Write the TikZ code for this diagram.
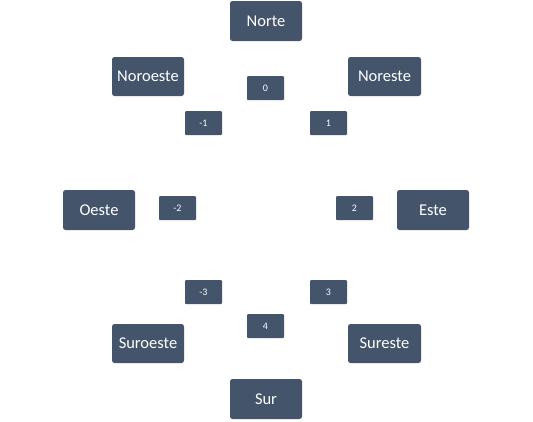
\documentclass[tikz,border=0pt]{standalone}
\usepackage{fontspec}
\setmainfont{Carlito}
\definecolor{boxblue}{HTML}{44546A}
\begin{document}
\begin{tikzpicture}[x=1pt,y=-1pt,
  bigbox/.style={fill=boxblue,rounded corners=2.5pt,minimum width=72pt,minimum height=40pt,text=white,font=\fontsize{16.5}{18}\selectfont,inner sep=0pt},
  smallbox/.style={fill=boxblue,rounded corners=1pt,minimum width=37pt,minimum height=24pt,text=white,font=\fontsize{10}{11}\selectfont,inner sep=0pt}]
\useasboundingbox[fill=white] (0,0) rectangle (533,421);
\node[bigbox] (norte) at (266,21) {Norte};
\node[bigbox,minimum height=39pt] (noroeste) at (148,76.5) {Noroeste};
\node[bigbox,minimum height=39pt,minimum width=73pt] (noreste) at (384.5,76.5) {Noreste};
\node[bigbox] (oeste) at (99,210) {Oeste};
\node[bigbox] (este) at (433,210) {Este};
\node[bigbox,minimum height=39pt] (suroeste) at (148,343.5) {Suroeste};
\node[bigbox,minimum height=39pt,minimum width=73pt] (sureste) at (384.5,343.5) {Sureste};
\node[bigbox] (sur) at (266,399) {Sur};
\node[smallbox] (n0) at (265.5,88) {0};
\node[smallbox] (nm1) at (203.5,123) {-1};
\node[smallbox] (n1) at (328.5,123) {1};
\node[smallbox] (nm2) at (177.5,208) {-2};
\node[smallbox] (n2) at (354.5,208) {2};
\node[smallbox] (nm3) at (203.5,292) {-3};
\node[smallbox] (n3) at (328.5,292) {3};
\node[smallbox] (n4) at (265.5,326) {4};
\end{tikzpicture}
\end{document}
